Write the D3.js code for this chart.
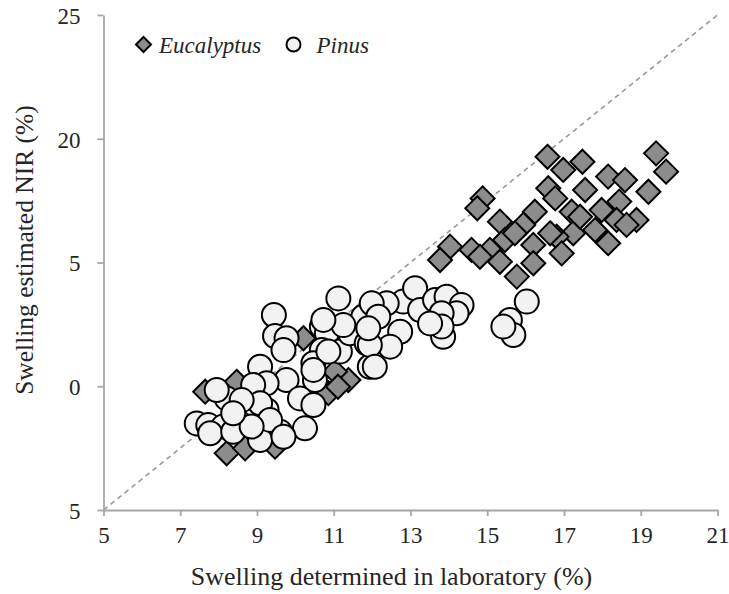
<!DOCTYPE html>
<html>
<head>
<meta charset="utf-8">
<script src="https://cdn.jsdelivr.net/npm/d3@7"></script>
<style>
  html, body { margin: 0; padding: 0; background: #fff; }
  svg { display: block; }
  svg text { font-family: "Liberation Serif", "DejaVu Serif", serif !important; }
</style>
</head>
<body>
<svg id="chart" width="729" height="594"></svg>
<script>
// ---- data ----
const seriesNames = ["Eucalyptus", "Pinus"];
const xTicks = [5, 7, 9, 11, 13, 15, 17, 19, 21];
const yTicks = [5, 10, 15, 20, 25];
const yTickLabels = ["5", "0", "5", "20", "25"];
const xTitle = "Swelling determined in laboratory (%)";
const yTitle = "Swelling estimated NIR (%)";

const eucalyptusX = [16.57, 17.48, 16.98, 19.40, 19.66, 18.15, 18.59, 19.20, 16.59, 17.55,
  14.88, 14.74, 16.77, 18.44, 17.98, 17.20, 16.24, 18.89, 18.37, 15.33,
  15.94, 17.24, 17.81, 16.81, 18.15, 15.46, 16.20, 14.59, 14.03, 13.77,
  16.94, 15.07, 15.33, 16.20, 15.77, 14.81, 15.72, 16.64, 17.42, 18.63,
  7.65, 8.21, 8.69, 10.21, 11.38, 11.03, 10.86, 11.11, 9.47, 8.47];
const eucalyptusY = [19.27, 19.07, 18.74, 19.41, 18.67, 18.47, 18.33, 17.86, 18.00, 17.93,
  17.59, 17.19, 17.59, 17.46, 17.12, 17.05, 17.05, 16.72, 16.72, 16.65,
  16.52, 16.18, 16.31, 16.04, 15.78, 15.91, 15.71, 15.51, 15.64, 15.10,
  15.37, 15.51, 15.03, 14.97, 14.43, 15.23, 16.18, 16.18, 16.85, 16.52,
  9.78, 7.29, 7.49, 11.94, 10.25, 10.59, 9.72, 9.98, 7.56, 10.18];

const pinusX = [11.12, 9.44, 9.47, 9.77, 9.69, 10.69, 10.82, 11.16, 11.42, 10.69,
  9.08, 10.47, 10.51, 9.77, 9.25, 8.90, 10.12, 10.47, 9.25, 9.08,
  8.21, 7.95, 8.60, 10.25, 9.60, 9.08, 8.56, 7.43, 7.73, 8.12,
  7.78, 8.38, 9.34, 8.86, 9.69, 8.38, 11.77, 11.86, 11.94, 12.81,
  13.12, 12.38, 11.99, 12.16, 13.25, 13.64, 13.94, 14.33, 14.20, 13.81,
  13.85, 13.81, 13.51, 12.73, 12.47, 11.94, 12.07, 11.25, 10.73, 10.86,
  10.47, 11.90, 16.03, 15.59, 15.68, 15.42];
const pinusY = [13.55, 12.88, 12.03, 11.94, 11.46, 12.41, 12.14, 11.40, 12.14, 11.46,
  10.79, 10.93, 10.25, 10.25, 10.12, 10.05, 9.51, 9.24, 9.04, 9.31,
  9.51, 9.85, 9.44, 8.30, 8.16, 7.83, 8.50, 8.50, 8.43, 8.37,
  8.10, 8.16, 8.64, 8.37, 7.96, 8.91, 12.81, 11.74, 10.79, 13.42,
  13.96, 13.35, 13.35, 12.81, 13.08, 13.48, 13.62, 13.28, 12.95, 12.95,
  12.00, 12.41, 12.54, 12.20, 11.60, 11.67, 10.79, 12.47, 12.68, 11.40,
  10.66, 12.34, 13.42, 12.68, 12.07, 12.41];

// ---- drawing ----
const svg = d3.select("#chart");
const font = "Liberation Serif, DejaVu Serif, serif";
const axisColor = "#a6a6a6";
const textColor = "#262626";

const x = d3.scaleLinear().domain([5, 21]).range([103.5, 717.5]);
const y = d3.scaleLinear().domain([5, 25]).range([510, 15]);

// reference line (corner to corner)
svg.append("line")
  .attr("x1", x(5)).attr("y1", y(5))
  .attr("x2", x(21)).attr("y2", y(25))
  .attr("stroke", "#9a9a9a").attr("stroke-width", 1.6)
  .attr("stroke-dasharray", "5,4");

// axes
const xAxis = svg.append("g").attr("transform", `translate(0,${y(5)})`)
  .call(d3.axisBottom(x).tickValues(xTicks).tickSize(6).tickSizeOuter(0).tickFormat(d => String(d)));
const yAxis = svg.append("g").attr("transform", `translate(${x(5)},0)`)
  .call(d3.axisLeft(y).tickValues(yTicks).tickSize(6).tickSizeOuter(0)
    .tickFormat((d, i) => yTickLabels[i]));

[xAxis, yAxis].forEach(g => {
  g.attr("font-family", font).attr("font-size", 23);
  g.select(".domain").attr("stroke", axisColor).attr("stroke-width", 1.8);
  g.selectAll(".tick line").attr("stroke", axisColor).attr("stroke-width", 1.8);
  g.selectAll(".tick text").attr("fill", textColor)
    .attr("font-family", font).attr("font-size", 23);
});
xAxis.selectAll(".tick text").attr("y", 33).attr("dy", 0);
yAxis.selectAll(".tick text").attr("x", -23).attr("dy", "0.36em");

// axis titles
svg.append("text")
  .attr("x", 391.5).attr("y", 585)
  .attr("text-anchor", "middle")
  .attr("fill", textColor)
  .attr("font-family", font).attr("font-size", 26)
  .text(xTitle);
svg.append("text")
  .attr("transform", "translate(33,250) rotate(-90)")
  .attr("text-anchor", "middle")
  .attr("fill", textColor)
  .attr("font-family", font).attr("font-size", 25.5)
  .text(yTitle);

// markers
const diamond = s => `M0,${-s}L${s},0L0,${s}L${-s},0Z`;

const eucData = eucalyptusX.map((v, i) => ({ x: v, y: eucalyptusY[i] }));
const pinData = pinusX.map((v, i) => ({ x: v, y: pinusY[i] }));

svg.append("g").selectAll("path").data(eucData).join("path")
  .attr("transform", d => `translate(${x(d.x)},${y(d.y)})`)
  .attr("d", diamond(12))
  .attr("fill", "#8c8c8c").attr("stroke", "#000").attr("stroke-width", 2)
  .attr("stroke-linejoin", "miter");

svg.append("g").selectAll("circle").data(pinData).join("circle")
  .attr("cx", d => x(d.x)).attr("cy", d => y(d.y)).attr("r", 12)
  .attr("fill", "#f2f2f2").attr("stroke", "#000").attr("stroke-width", 2);

// legend
const leg = svg.append("g");
leg.append("path").attr("transform", "translate(143.5,44.5)").attr("d", diamond(7.5))
  .attr("fill", "#8c8c8c").attr("stroke", "#000").attr("stroke-width", 2);
leg.append("text").attr("x", 159).attr("y", 52.5)
  .attr("fill", textColor)
  .attr("font-family", font).attr("font-size", 23).attr("font-style", "italic")
  .text(seriesNames[0]);
leg.append("circle").attr("cx", 293.5).attr("cy", 44.5).attr("r", 7)
  .attr("fill", "#f2f2f2").attr("stroke", "#000").attr("stroke-width", 2);
leg.append("text").attr("x", 316.5).attr("y", 52.5)
  .attr("fill", textColor)
  .attr("font-family", font).attr("font-size", 23).attr("font-style", "italic")
  .text(seriesNames[1]);
</script>
</body>
</html>
